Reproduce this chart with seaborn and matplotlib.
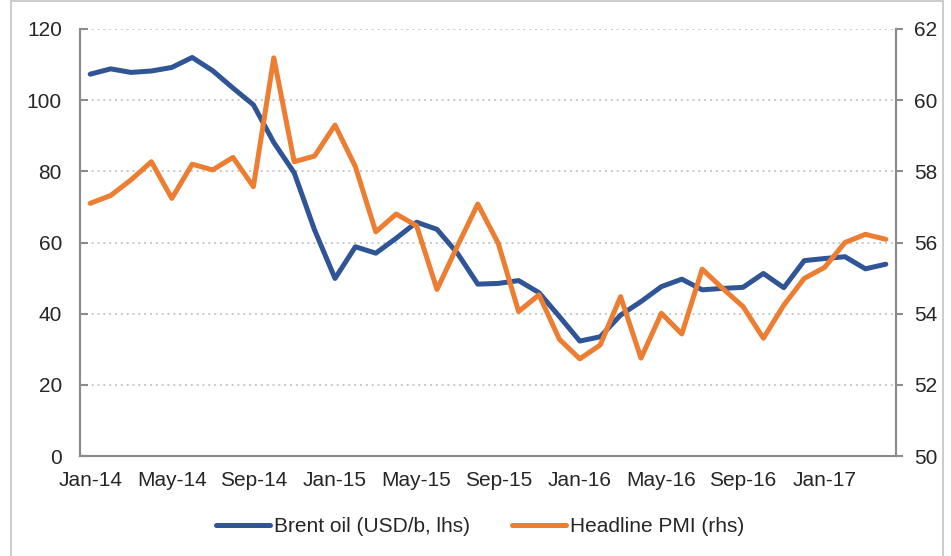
import matplotlib
matplotlib.use("Agg")
import matplotlib.pyplot as plt
import seaborn as sns
import numpy as np
import pandas as pd
from matplotlib.lines import Line2D

# ---- data ----
months = pd.date_range("2014-01-01", periods=40, freq="MS")
month_labels = [d.strftime("%b-%y") for d in months]
brent = [107.3, 108.8, 107.8, 108.2, 109.2, 112.0, 108.3, 103.4, 98.7, 88.1,
         79.6, 63.5, 49.9, 58.8, 57.0, 61.2, 65.7, 63.7, 57.0, 48.3,
         48.5, 49.3, 45.9, 39.2, 32.3, 33.5, 39.6, 43.4, 47.6, 49.7,
         46.7, 47.1, 47.4, 51.3, 47.3, 54.9, 55.5, 56.0, 52.6, 53.9]
pmi = [57.10, 57.32, 57.76, 58.27, 57.24, 58.20, 58.04, 58.39, 57.57, 61.19,
       58.27, 58.43, 59.30, 58.13, 56.30, 56.80, 56.47, 54.68, 55.90, 57.08,
       55.98, 54.06, 54.53, 53.28, 52.73, 53.12, 54.48, 52.75, 54.01, 53.43,
       55.25, 54.71, 54.20, 53.31, 54.24, 54.99, 55.30, 56.00, 56.23, 56.09]
left_ticks = [0, 20, 40, 60, 80, 100, 120]
right_ticks = [50, 52, 54, 56, 58, 60, 62]
series_names = ["Brent oil (USD/b, lhs)", "Headline PMI (rhs)"]

BLUE = "#2F5597"
ORANGE = "#ED7D31"
SPINE = "#8c8c8c"

sns.set_style("white")
plt.rcParams["font.family"] = ["Liberation Sans", "DejaVu Sans"]
plt.rcParams["font.size"] = 15

df = pd.DataFrame({"idx": np.arange(len(months)), "brent": brent, "pmi": pmi})

fig = plt.figure(figsize=(9.51, 5.56), dpi=100)
ax = fig.add_axes([80 / 951, 100 / 556, 816 / 951, 427 / 556])
ax2 = ax.twinx()

sns.lineplot(data=df, x="idx", y="brent", ax=ax, color=BLUE, linewidth=3.6,
             label=series_names[0], legend=False)
sns.lineplot(data=df, x="idx", y="pmi", ax=ax2, color=ORANGE, linewidth=3.6,
             label=series_names[1], legend=False)

ax.set_xlim(-0.5, len(months) - 0.5)
ax.set_ylim(0, 120)
ax2.set_ylim(50, 62)
ax.set_yticks(left_ticks)
ax2.set_yticks(right_ticks)
ax.set_xticks(np.arange(0, len(months), 4))
ax.set_xticklabels([month_labels[i] for i in range(0, len(months), 4)])
ax.set_xlabel("")
ax.set_ylabel("")
ax2.set_ylabel("")

ax.yaxis.grid(True, linestyle=(0, (1, 2)), color="#c8c8c8", linewidth=1.4)
ax.set_axisbelow(True)

for a in (ax, ax2):
    a.spines["top"].set_visible(False)
    for s in ("left", "right", "bottom"):
        a.spines[s].set_color(SPINE)
        a.spines[s].set_linewidth(1.5)
ax.tick_params(axis="y", direction="in", length=6, width=1.5, color=SPINE,
               pad=13, labelsize=15)
ax.tick_params(axis="x", length=0, pad=11, labelsize=15)
ax2.tick_params(axis="y", direction="out", length=5, width=1.5, color=SPINE,
                pad=8, labelsize=15)

handles = [Line2D([], [], color=BLUE, linewidth=3.6),
           Line2D([], [], color=ORANGE, linewidth=3.6)]
fig.legend(handles, series_names, loc="center", bbox_to_anchor=(480 / 951, 1 - 527 / 556),
           ncol=2, frameon=False, fontsize=15, handlelength=2.6, handletextpad=0.2,
           columnspacing=2.0)

# outer frame lines
fc = "#c4c4c4"
fig.add_artist(Line2D([11 / 951, 11 / 951], [0, 1 - 1 / 556], color=fc, lw=1.2, transform=fig.transFigure))
fig.add_artist(Line2D([943 / 951, 943 / 951], [0, 1 - 1 / 556], color=fc, lw=1.2, transform=fig.transFigure))
fig.add_artist(Line2D([11 / 951, 943 / 951], [1 - 1 / 556, 1 - 1 / 556], color=fc, lw=1.2, transform=fig.transFigure))

fig.savefig("out.png", dpi=100)
